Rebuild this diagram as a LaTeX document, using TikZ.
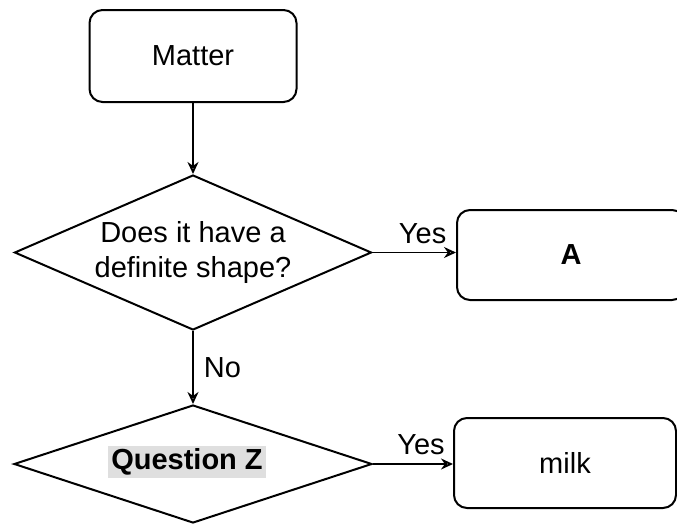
\documentclass[tikz,border=0pt]{standalone}
\usepackage{fontspec}
\setmainfont{Liberation Sans}
\usetikzlibrary{shapes.geometric,arrows.meta}
\begin{document}
\begin{tikzpicture}[x=1pt,y=-1pt,
  every node/.style={font=\fontsize{29}{35}\selectfont},
  boxnode/.style={draw,line width=2pt,rounded corners=13pt,inner sep=0pt},
  decide/.style={draw,line width=2pt,diamond,inner sep=0pt,align=center},
  conn/.style={line width=1.8pt,-{Stealth[length=12pt,width=11pt,fill=gray!70]}},
  lbl/.style={inner sep=0pt}]
\useasboundingbox (0,0) rectangle (677,525);
\node[boxnode,minimum width=207pt,minimum height=92pt] (matter) at (193,56) {Matter};
\node[decide,aspect=2.3,minimum width=357pt,minimum height=155pt] (d1) at (193,252.5) {Does it have a\\definite shape?};
\node[boxnode,minimum width=228pt,minimum height=90pt] (a) at (571,255) {\bfseries A};
\node[decide,aspect=3.03,minimum width=358pt,minimum height=118pt] (d2) at (193,464) {};
\node[fill=gray!25,inner sep=3pt,font=\fontsize{29}{35}\selectfont\bfseries] (q) at (187,462) {Question Z};
\node[boxnode,minimum width=222pt,minimum height=90pt] (milk) at (565,463) {milk};
\draw[conn] (matter.south) -- (d1.north);
\draw[conn] (d1.east) -- (d1.east -| a.west) node[lbl,pos=0.6,above=8pt] (y1) {Yes};
\draw[conn] (d1.south) -- (d2.north) node[lbl,midway,right=10pt] (no) {No};
\draw[conn] (d2.east) -- (d2.east -| milk.west) node[lbl,pos=0.6,above=8pt] (y2) {Yes};
\end{tikzpicture}
\end{document}
